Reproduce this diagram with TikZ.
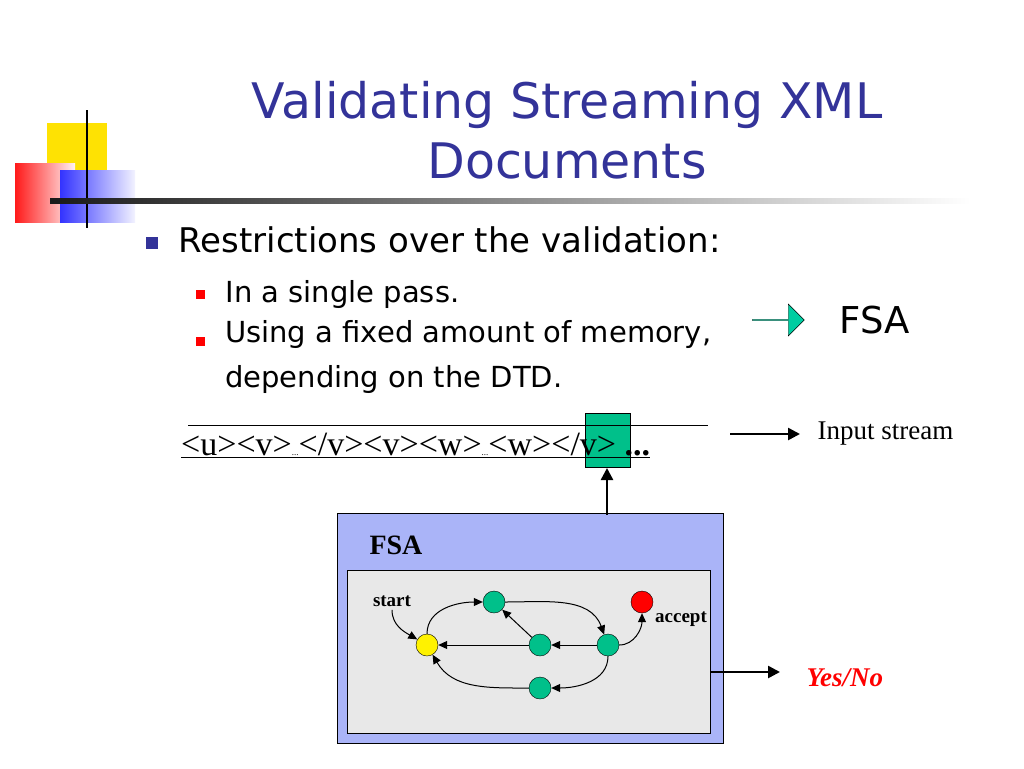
\documentclass[tikz,border=0pt]{standalone}
\usepackage{fontspec}
\setmainfont{Liberation Serif}
\newfontfamily\slide{DejaVu Sans}
\usetikzlibrary{arrows.meta,shapes.arrows}
\definecolor{ttl}{HTML}{333399}
\definecolor{fsab}{HTML}{AAB4F8}
\definecolor{stg}{HTML}{00C08A}
\tikzset{
 st/.style={circle,draw=black,fill=stg,minimum size=22pt,inner sep=0},
 ed/.style={-{Triangle[length=9pt,width=8pt]},line width=1pt},
 bar/.style={-{Triangle[length=12pt,width=12pt]},line width=2.5pt},
 lbl/.style={font=\bfseries\fontsize{19}{19}\selectfont},
}
\begin{document}
\begin{tikzpicture}[x=1pt,y=-1pt]
\useasboundingbox (0,0) rectangle (1024,768);
% decoration
\fill[yellow!85!orange] (47,123) rectangle (107,183);
\shade[left color=red!90,right color=red!5] (15,163) rectangle (75,222);
\shade[left color=blue!80,right color=blue!5] (60,170) rectangle (135,222);
\draw[line width=2pt] (87,110) -- (87,228);
\shade[left color=black!90,right color=white] (50,198) rectangle (970,203);
% title
\node[font=\slide\fontsize{49}{60}\selectfont,text=ttl,align=center] (title) at (567,130) {Validating Streaming XML\\Documents};
% bullets
\fill[ttl] (146,237) rectangle (158,249);
\node[anchor=west,font=\slide\fontsize{34}{36}\selectfont] (b1) at (175,240) {Restrictions over the validation:};
\fill[red] (196,290) rectangle (205,299);
\node[anchor=west,font=\slide\fontsize{29}{32}\selectfont] (b2) at (222,294) {In a single pass.};
\fill[red] (196,337) rectangle (205,346);
\node[anchor=north west,align=left,font=\slide\fontsize{29}{45}\selectfont,inner sep=0] (b3) at (225,320) {Using a fixed amount of memory,\\depending on the DTD.};
\node[single arrow,draw=black,fill=stg!80!cyan,minimum height=52pt,minimum width=32pt,single arrow head extend=6pt,inner sep=0] (fa) at (778,320) {};
\node[anchor=west,font=\slide\fontsize{37}{40}\selectfont] (fsat) at (836,320) {FSA};
% stream
\fill[stg] (585,413) rectangle (630,467);
\draw (585,413) rectangle (630,467);
\draw (188,425) -- (708,425);
\node[anchor=base west,font=\fontsize{34}{36}\selectfont,inner sep=0] (stream) at (181,455) {\underline{<u><v>{\small...}</v><v><w>{\small...}<w></v>\ \textbf{...}}};
\coordinate (in1) at (730,434); \coordinate (in2) at (800,434);
\draw[bar] (in1) -- (in2);
\node[anchor=west,font=\fontsize{27}{30}\selectfont] (ins) at (814,434) {Input stream};
% FSA box
\node[draw=black,fill=fsab,minimum width=386pt,minimum height=230pt,anchor=north west] (outer) at (337,513) {};
\node[draw=black,fill=black!9,minimum width=363pt,minimum height=163pt,anchor=north west] (inner) at (347,570) {};
\node[anchor=west,font=\bfseries\fontsize{28}{30}\selectfont] (fl) at (366,545) {FSA};
\coordinate (up) at (607,515);
\draw[bar] (up) -- (607,468);
\coordinate (yn1) at (710,672); \coordinate (yn2) at (780,672);
\draw[bar] (yn1) -- (yn2);
\node[anchor=west,text=red,font=\bfseries\itshape\fontsize{27}{30}\selectfont] (yn) at (803,678) {Yes/No};
% states
\node[st,fill=yellow] (s0) at (427,645) {};
\node[st] (s1) at (494,602) {};
\node[st] (s2) at (540,645) {};
\node[st] (s3) at (608,645) {};
\node[st] (s4) at (540,688) {};
\node[st,fill=red] (s5) at (642,602) {};
\node[lbl] (stl) at (392,601) {start};
\node[lbl] (acl) at (681,619) {accept};
\draw[ed] (stl.south) to[out=-90,in=150] (s0);
\draw[ed] (s0.north) to[out=90,in=180] (s1);
\draw[ed] (s1) to[out=0,in=110] (s3);
\draw[ed] (s2) -- (s1);
\draw[ed] (s2) -- (s0);
\draw[ed] (s3) -- (s2);
\draw[ed] (s3.east) to[out=0,in=-90] (s5);
\draw[ed] (s3.south) to[out=-90,in=0] (s4);
\draw[ed] (s4.west) to[out=180,in=-60] (s0);
\end{tikzpicture}
\end{document}
